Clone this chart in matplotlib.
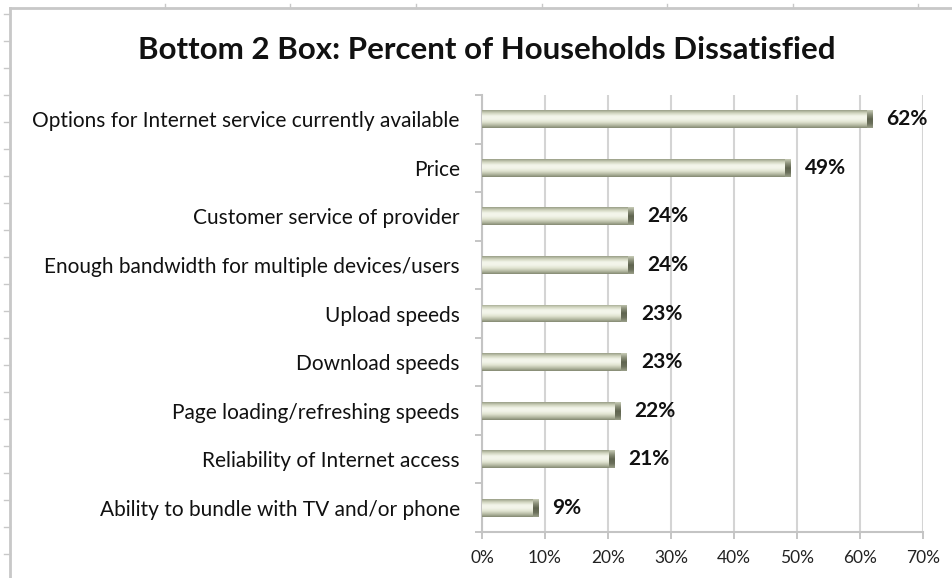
import numpy as np
import matplotlib.pyplot as plt
from matplotlib.colors import LinearSegmentedColormap
from matplotlib.lines import Line2D

categories = [
    'Options for Internet service currently available',
    'Price',
    'Customer service of provider',
    'Enough bandwidth for multiple devices/users',
    'Upload speeds',
    'Download speeds',
    'Page loading/refreshing speeds',
    'Reliability of Internet access',
    'Ability to bundle with TV and/or phone',
]
values = [62, 49, 24, 24, 23, 23, 22, 21, 9]
x_ticks = [0, 10, 20, 30, 40, 50, 60, 70]

plt.rcParams['font.family'] = ['Lato', 'DejaVu Sans']

fig = plt.figure(figsize=(9.53, 5.78), dpi=100)
W, H = 953, 578
ax = fig.add_axes([482 / W, 1 - 532 / H, (923 - 482) / W, (532 - 95) / H])

y = np.arange(len(categories))[::-1]
bar_h = 0.37
bars = ax.barh(y, values, height=bar_h, color='#e6e9d6', edgecolor='none', zorder=3)

# cylinder-ish shading, clipped to each bar
shade = LinearSegmentedColormap.from_list(
    'shade', ['#9a9f88', '#d2d6c0', '#f3f5ea', '#f3f5ea', '#e1e4d1', '#b9bda6', '#858a73'])
cap_shade = LinearSegmentedColormap.from_list(
    'cap', ['#c7cbb6', '#8b907a', '#5f644f', '#6b705b', '#9a9f88'])
grad = np.linspace(0, 1, 64).reshape(-1, 1)
cap_w = 0.9
for b in bars:
    x0, y0, w, h = b.get_x(), b.get_y(), b.get_width(), b.get_height()
    im = ax.imshow(grad, cmap=shade, aspect='auto', origin='upper',
                   extent=[x0, x0 + w, y0, y0 + h], zorder=4)
    im.set_clip_path(b)
    # darker bevelled end cap
    cap = ax.barh(y0 + h / 2, cap_w, left=x0 + w - cap_w, height=h,
                  color='#6f745e', edgecolor='none', zorder=5)[0]
    im2 = ax.imshow(grad, cmap=cap_shade, aspect='auto', origin='upper',
                    extent=[x0 + w - cap_w, x0 + w, y0, y0 + h], zorder=5)
    im2.set_clip_path(cap)
    ax.text(x0 + w + 2.2, y0 + h / 2, f'{int(w)}%', va='center', ha='left',
            fontsize=15, fontweight='bold', color='#111111', zorder=6)

ax.set_xlim(0, 70)
ax.set_ylim(-0.5, len(categories) - 0.5)
ax.set_xticks(x_ticks)
ax.set_xticklabels([f'{t}%' for t in x_ticks], fontsize=12.5, color='#222222')
ax.set_yticks(y)
ax.set_yticklabels(categories, fontsize=15, color='#111111')
ax.set_yticks(np.arange(-0.5, len(categories), 1), minor=True)
ax.tick_params(axis='y', which='major', length=0, pad=16)
ax.tick_params(axis='y', which='minor', length=5, color='#bbbbbb', width=1.2)
ax.tick_params(axis='x', length=5, color='#bbbbbb', width=1.2, pad=8)
ax.grid(axis='x', color='#d4d4d4', linewidth=1.5, zorder=0)
for s in ['top', 'right']:
    ax.spines[s].set_visible(False)
for s in ['left', 'bottom']:
    ax.spines[s].set_color('#c4c4c4')
    ax.spines[s].set_linewidth(1.5)

fig.text(487 / W, 1 - 50 / H, 'Bottom 2 Box: Percent of Households Dissatisfied',
         ha='center', va='center', fontsize=22.5, fontweight='bold', color='#111111')

# chart-area frame remnants
frame = '#c8c8c8'
fig.add_artist(Line2D([10 / W, 10 / W], [0, 1 - 8 / H], color=frame, lw=2))
fig.add_artist(Line2D([10 / W, 1], [1 - 8 / H, 1 - 8 / H], color=frame, lw=2))
for py in range(14, H, 27):
    fig.add_artist(Line2D([4 / W, 10 / W], [1 - py / H, 1 - py / H], color=frame, lw=1))
for px in [165, 290, 416, 542, 667, 793, 918]:
    fig.add_artist(Line2D([px / W, px / W], [1 - 8 / H, 1 - 4 / H], color=frame, lw=1))

fig.savefig('out.png', dpi=100, facecolor='white')
